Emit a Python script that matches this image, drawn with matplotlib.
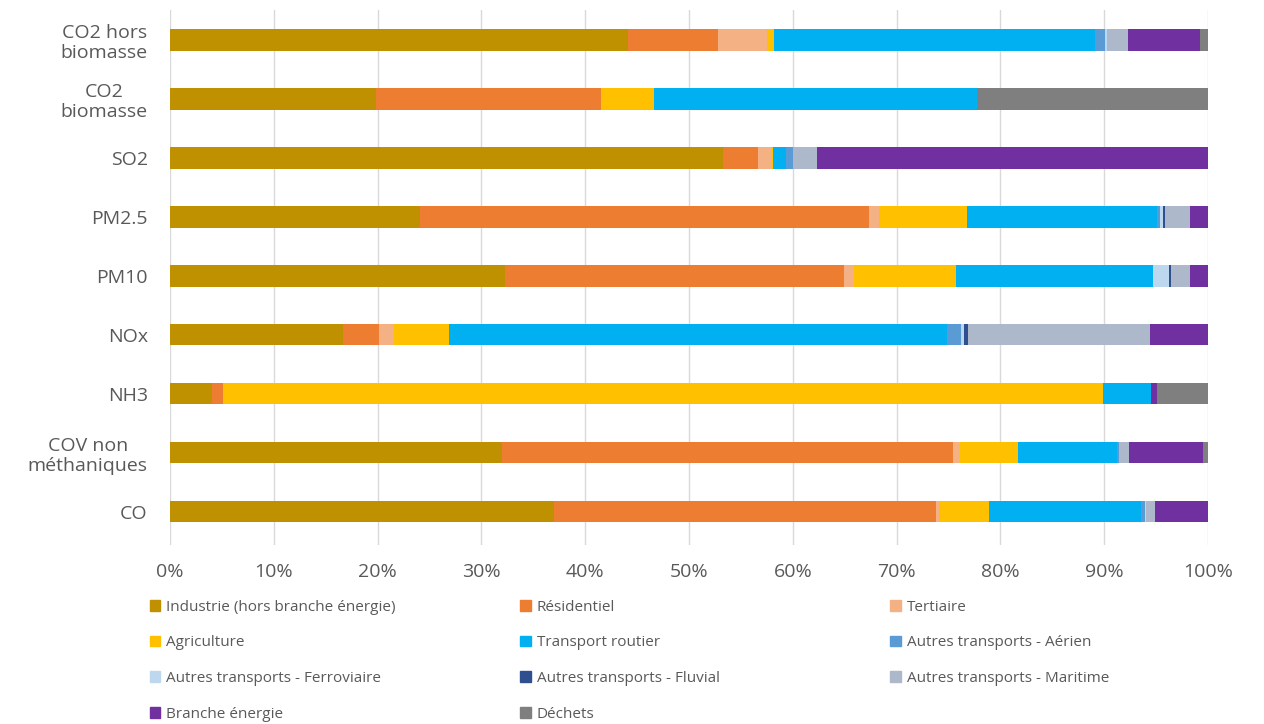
import matplotlib.pyplot as plt
import matplotlib.patches as mpatches
import numpy as np

plt.rcParams['font.family'] = ['Open Sans', 'DejaVu Sans']

# polluants, du bas vers le haut
polluants = ["CO", "COV non\nméthaniques", "NH3", "NOx", "PM10", "PM2.5",
             "SO2", "CO2\nbiomasse", "CO2 hors\nbiomasse"]

secteurs = ["Industrie (hors branche énergie)", "Résidentiel", "Tertiaire",
            "Agriculture", "Transport routier", "Autres transports - Aérien",
            "Autres transports - Ferroviaire", "Autres transports - Fluvial",
            "Autres transports - Maritime", "Branche énergie", "Déchets"]

couleurs = ["#BF9000", "#ED7D31", "#F4B183", "#FFC000", "#00B0F0", "#5B9BD5",
            "#BDD7EE", "#2F4F8F", "#ADB9CA", "#7030A0", "#7F7F7F"]

# parts en % (même ordre que polluants)
industrie   = [37.0, 32.0, 4.0, 16.7, 32.3, 24.1, 53.3, 19.8, 44.1]
residentiel = [36.8, 43.4, 1.1, 3.4, 32.6, 43.2, 3.3, 21.7, 8.7]
tertiaire   = [0.3, 0.7, 0.0, 1.5, 1.0, 1.0, 1.3, 0.0, 4.7]
agriculture = [4.8, 5.6, 84.8, 5.3, 9.8, 8.5, 0.2, 5.1, 0.7]
routier     = [14.6, 9.5, 4.6, 48.0, 19.0, 18.3, 1.2, 31.1, 30.9]
aerien      = [0.4, 0.2, 0.0, 1.3, 0.0, 0.3, 0.7, 0.0, 1.0]
ferroviaire = [0.1, 0.0, 0.0, 0.3, 1.5, 0.3, 0.0, 0.0, 0.2]
fluvial     = [0.0, 0.0, 0.0, 0.4, 0.2, 0.2, 0.0, 0.0, 0.0]
maritime    = [0.9, 1.0, 0.0, 17.5, 1.9, 2.4, 2.3, 0.0, 2.0]
energie     = [5.1, 7.1, 0.6, 5.6, 1.7, 1.7, 37.7, 0.0, 6.9]
dechets     = [0.0, 0.5, 4.9, 0.0, 0.0, 0.0, 0.0, 22.3, 0.8]

series = [industrie, residentiel, tertiaire, agriculture, routier, aerien,
          ferroviaire, fluvial, maritime, energie, dechets]

fig = plt.figure(figsize=(12.64, 7.24), dpi=100)
ax = fig.add_axes([0.1345, 0.247, 0.8212, 0.739])

y = np.arange(len(polluants))
left = np.zeros(len(polluants))
for vals, col, nom in zip(series, couleurs, secteurs):
    v = np.array(vals) / 100
    ax.barh(y, v, left=left, height=0.37, color=col, label=nom, zorder=3)
    left += v

ax.set_xlim(0, 1)
ax.set_ylim(-0.57, 8.5)
ax.set_xticks(np.arange(0, 1.01, 0.1))
ax.set_xticklabels([f"{int(round(t*100))}%" for t in np.arange(0, 1.01, 0.1)])
ax.set_yticks(y)
ax.set_yticklabels(polluants, ha="right", multialignment="center",
                   linespacing=1.15)
ax.tick_params(axis="y", length=0, pad=16, labelsize=14, colors="#595959")
ax.tick_params(axis="x", length=0, pad=13, labelsize=14, colors="#595959")
ax.grid(axis="x", color="#D9D9D9", linewidth=1, zorder=0)
for s in ax.spines.values():
    s.set_visible(False)

# légende en 3 colonnes, ordre ligne par ligne
handles = [mpatches.Patch(color=c) for c in couleurs]
xs = [0.1135, 0.4065, 0.6995]
for k in range(3):
    idx = list(range(k, len(secteurs), 3))
    fig.legend([handles[i] for i in idx], [secteurs[i] for i in idx],
               loc="upper left", bbox_to_anchor=(xs[k], 0.18), ncol=1,
               frameon=False, fontsize=11, labelcolor="#595959",
               handlelength=0.7, handleheight=0.7, handletextpad=0.4,
               labelspacing=1.35, borderaxespad=0)

fig.savefig("out.png", dpi=100, facecolor="white")
